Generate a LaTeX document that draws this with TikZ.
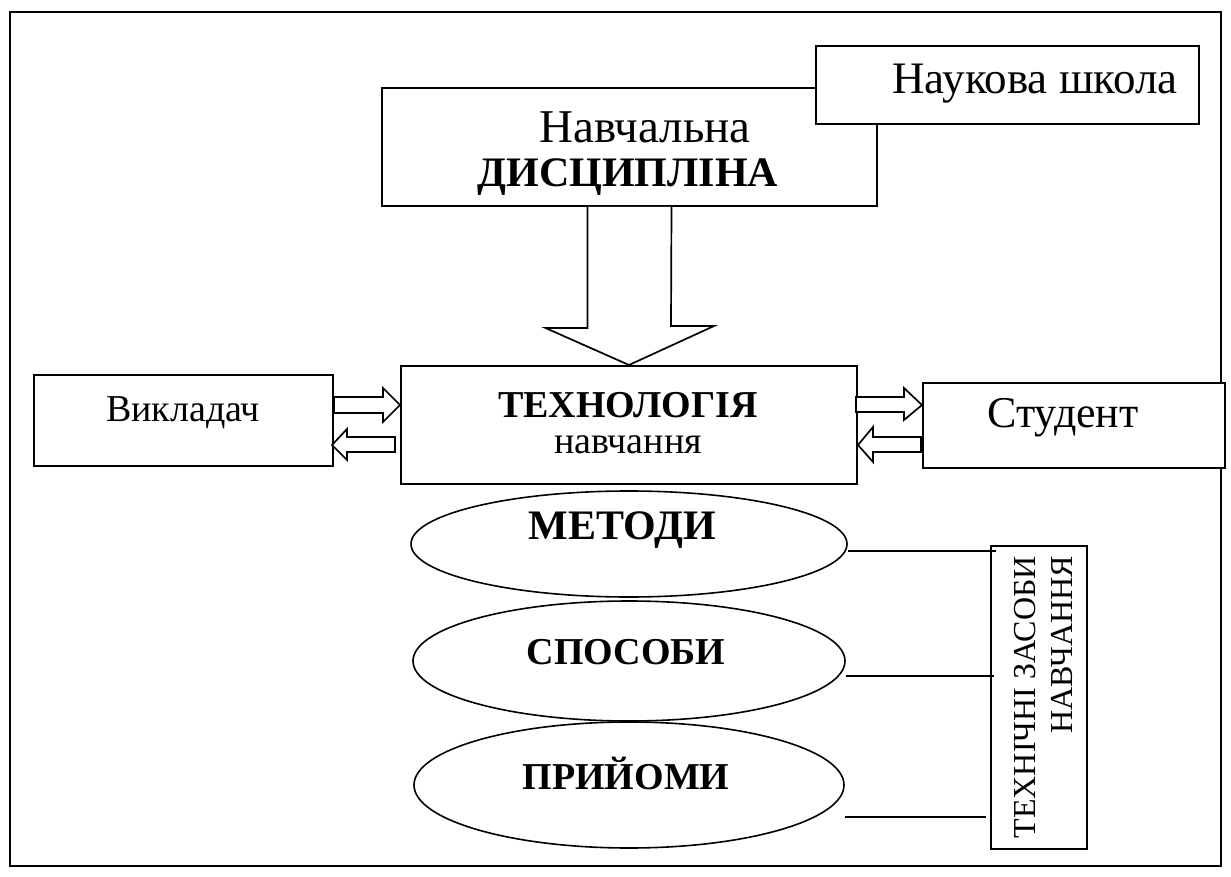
\documentclass[tikz,border=0pt]{standalone}
\usepackage{fontspec}
\setmainfont{Liberation Serif}
\usetikzlibrary{shapes.geometric}
\begin{document}
\begin{tikzpicture}[x=1pt,y=-1pt,
  box/.style={draw, fill=white, line width=2pt, inner sep=0pt},
  ell/.style={draw, ellipse, line width=1.6pt, inner sep=0pt},
  reg/.style={font=\fontsize{38}{44}\selectfont, inner sep=0pt},
  bld/.style={font=\fontsize{40}{46}\selectfont\bfseries, inner sep=0pt},
  barrow/.style={draw, fill=white, line width=1.7pt, line join=miter},
  link/.style={draw, line width=2pt}]
\useasboundingbox (0,0) rectangle (1231,877);
% outer frame
\draw[line width=2pt] (10,12) rectangle (1221,866);
% top boxes
\node[box, minimum width=495pt, minimum height=118pt, anchor=north west] (disc) at (381,87) {};
\node[box, minimum width=383pt, minimum height=78pt, anchor=north west] (school) at (815,45) {};
\node[reg, font=\fontsize{45}{50}\selectfont] (schoolt) at (1035,84) {Наукова школа};
\node[reg, font=\fontsize{47}{52}\selectfont] (disct1) at (645,127) {Навчальна};
\node[bld, font=\fontsize{42}{48}\selectfont\bfseries] (disct2) at (628,177) {ДИСЦИПЛІНА};
% technology box
\node[box, minimum width=456pt, minimum height=118pt, anchor=north west] (tech) at (400,365) {};
\node[bld, font=\fontsize{38}{44}\selectfont\bfseries] (techt1) at (628,405) {ТЕХНОЛОГІЯ};
\node[reg] (techt2) at (628,445) {навчання};
% big arrow from the discipline box to the technology box
\draw[barrow] ([xshift=-42pt]disc.south) -- ++(0,121) -- ++(-42,0) -- (tech.north) -- ++(85,-39) -- ++(-43,0) -- ([xshift=42pt]disc.south);
% side boxes
\node[box, minimum width=299pt, minimum height=91pt, anchor=north west] (teach) at (33,374) {};
\node[reg] (teacht) at (183,413) {Викладач};
\node[box, minimum width=302pt, minimum height=85pt, anchor=north west] (stud) at (922,382) {};
\node[reg, font=\fontsize{44}{50}\selectfont] (studt) at (1063,418) {Студент};
% small arrows left
\draw[barrow] (334,397) -- (383,397) -- (383,388) -- (400,405) -- (383,422) -- (383,413) -- (334,413) -- cycle;
\draw[barrow] (395,437) -- (347,437) -- (347,429) -- (332,445) -- (347,460) -- (347,452) -- (395,452) -- cycle;
% small arrows right
\draw[barrow] (856,397) -- (904,397) -- (904,388) -- (922,405) -- (904,420) -- (904,412) -- (856,412) -- cycle;
\draw[barrow] (921,437) -- (873,437) -- (873,427) -- (858,445) -- (873,462) -- (873,452) -- (921,452) -- cycle;
% ellipses
\node[ell, minimum width=436pt, minimum height=106pt] (meth) at (629,544) {};
\node[ell, minimum width=432pt, minimum height=120pt] (ways) at (629,661) {};
\node[ell, minimum width=430pt, minimum height=126pt] (tech2) at (629,785) {};
\node[bld, font=\fontsize{42}{48}\selectfont\bfseries] (metht) at (622,530) {МЕТОДИ};
\node[bld, font=\fontsize{38}{44}\selectfont\bfseries] (wayst) at (626,652) {СПОСОБИ};
\node[bld, font=\fontsize{38}{44}\selectfont\bfseries] (tech2t) at (626,773) {ПРИЙОМИ};
% vertical box
\node[box, minimum width=96pt, minimum height=303pt, anchor=north west] (tools) at (990,545) {};
\node[reg, rotate=90, align=right, font=\fontsize{32}{37}\selectfont, anchor=north east] (toolst) at (1014,556) {ТЕХНІЧНІ ЗАСОБИ\\НАВЧАННЯ};
% connector lines
\draw[link] ([yshift=-7pt]meth.east) -- ([yshift=-7pt,xshift=6pt]meth.east -| tools.west);
\draw[link] ([yshift=-15pt]ways.east) -- ([yshift=-15pt,xshift=4pt]ways.east -| tools.west);
\draw[link] ([yshift=-32pt]tech2.east) -- ([yshift=-32pt,xshift=-4pt]tech2.east -| tools.west);
\end{tikzpicture}
\end{document}
